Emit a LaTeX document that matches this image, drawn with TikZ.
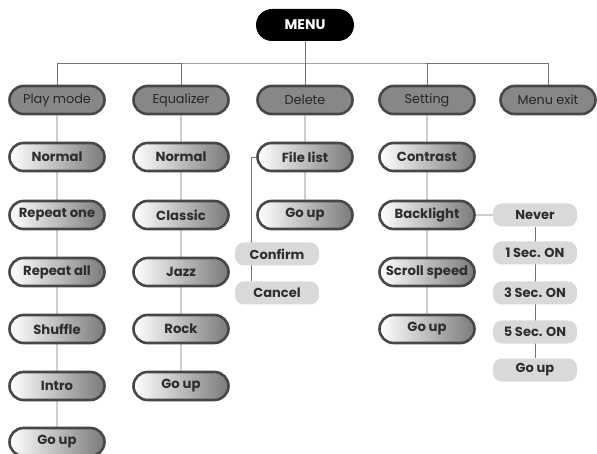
\documentclass[tikz,border=0pt]{standalone}
\usepackage{fontspec}
\setmainfont{Poppins}
\usetikzlibrary{shapes.misc,backgrounds}
\begin{document}
\begin{tikzpicture}[x=1pt,y=-1pt,
  pill/.style={rounded rectangle, minimum width=95pt, minimum height=28pt, line width=2.6pt, draw=black!72, inner sep=0pt, font=\fontsize{13.2}{14}\selectfont\bfseries, text=black!82},
  topbox/.style={pill, fill=black!47, font=\fontsize{12.8}{14}\selectfont, text=black!85},
  subbox/.style={pill, left color=white, right color=black!52},
  lightbox/.style={rectangle, rounded corners=9pt, minimum width=84pt, minimum height=23pt, fill=black!15, draw=none, inner sep=0pt, font=\fontsize{13}{14}\selectfont\bfseries, text=black!82},
  menubox/.style={rounded rectangle, minimum width=98pt, minimum height=32pt, fill=black, inner sep=0pt, font=\fontsize{14}{15}\selectfont\bfseries, text=white},
  link/.style={draw=black!55, line width=0.7pt}
]
\useasboundingbox (0,0) rectangle (597,454);
% MENU
\node[menubox] (menu) at (305,25) {MENU};
% top level
\node[topbox] (play) at (57,100) {Play mode};
\node[topbox] (eq) at (181,100) {Equalizer};
\node[topbox] (del) at (305,100) {Delete};
\node[topbox] (set) at (427,100) {Setting};
\node[topbox] (exit) at (548,100) {Menu exit};
% Play mode
\node[subbox] (p1) at (57,157) {Normal};
\node[subbox] (p2) at (57,215) {Repeat one};
\node[subbox] (p3) at (57,272) {Repeat all};
\node[subbox] (p4) at (57,329) {Shuffle};
\node[subbox] (p5) at (57,386) {Intro};
\node[subbox] (p6) at (57,442) {Go up};
% Equalizer
\node[subbox] (e1) at (181,157) {Normal};
\node[subbox] (e2) at (181,215) {Classic};
\node[subbox] (e3) at (181,272) {Jazz};
\node[subbox] (e4) at (181,329) {Rock};
\node[subbox] (e5) at (181,386) {Go up};
% Delete
\node[subbox] (d1) at (305,157) {File list};
\node[subbox] (d2) at (305,215) {Go up};
\node[lightbox] (conf) at (277,254) {Confirm};
\node[lightbox] (canc) at (277,293) {Cancel};
% Setting
\node[subbox] (s1) at (427,157) {Contrast};
\node[subbox] (s2) at (427,215) {Backlight};
\node[subbox] (s3) at (427,272) {Scroll speed};
\node[subbox] (s4) at (427,329) {Go up};
% Backlight options
\node[lightbox] (b1) at (535,215) {Never};
\node[lightbox] (b2) at (535,253) {1 Sec. ON};
\node[lightbox] (b3) at (535,293) {3 Sec. ON};
\node[lightbox] (b4) at (535,332) {5 Sec. ON};
\node[lightbox] (b5) at (535,370) {Go up};
\coordinate (bus) at (305,63);
\coordinate (flx) at (251,157);
\begin{scope}[on background layer]
  \draw[link] (menu) -- (bus);
  \draw[link] (play) |- (bus) -| (exit);
  \draw[link] (eq) -- (eq |- bus);
  \draw[link] (del) -- (del |- bus);
  \draw[link] (set) -- (set |- bus);
  \draw[link] (play) -- (p6);
  \draw[link] (eq) -- (e5);
  \draw[link] (del) -- (d2);
  \draw[link] (set) -- (s4);
  \draw[link] (d1.west) -- (flx) -- (flx |- canc.north);
  \draw[link] (s2) -- (b1);
  \draw[link] (b1) -- (b5);
\end{scope}
\end{tikzpicture}
\end{document}
